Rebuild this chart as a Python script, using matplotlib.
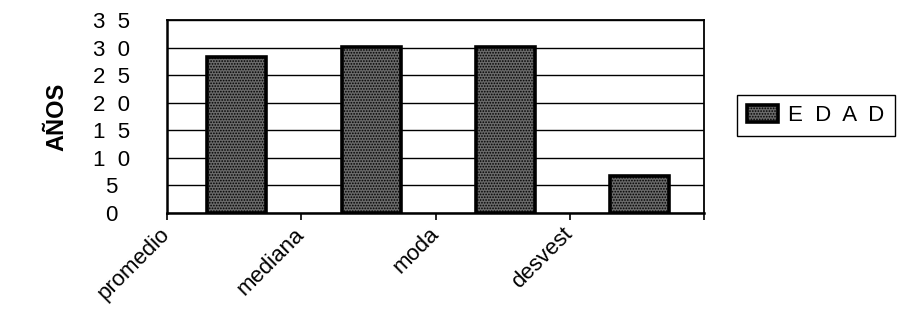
import matplotlib.pyplot as plt
from matplotlib.ticker import FuncFormatter

categories = ['promedio', 'mediana', 'moda', 'desvest']
edad = [28.3, 30.1, 30.1, 6.7]
y_ticks = [0, 5, 10, 15, 20, 25, 30, 35]

plt.rcParams['font.family'] = ['Liberation Sans', 'DejaVu Sans']
plt.rcParams['hatch.linewidth'] = 0.8

fig = plt.figure(figsize=(8.98, 3.30), dpi=100)
ax = fig.add_axes([0.186, 0.3545, 0.598, 0.5845])

# bars sit between the category ticks, as in the original sheet
pos = [i + 0.52 for i in range(len(categories))]
ax.bar(pos, edad, width=0.44, color='#6a6a6a', edgecolor='black',
       linewidth=2.6, hatch='......', label='E  D  A  D', zorder=3)

ax.set_xlim(0, len(categories))
ax.set_ylim(0, 35)
ax.set_yticks(y_ticks)
ax.yaxis.set_major_formatter(FuncFormatter(lambda v, p: '  '.join(str(int(v)))))
ax.grid(axis='y', color='black', linewidth=1.0, zorder=0)

ax.set_xticks(range(len(categories) + 1))
ax.set_xticklabels(categories + [''], rotation=45, ha='right', va='center',
                   rotation_mode='anchor', fontsize=16)
ax.tick_params(axis='x', length=5, width=1.2, direction='out', pad=8)
ax.tick_params(axis='y', length=0, labelsize=16, pad=40)
for lbl in ax.get_yticklabels():
    lbl.set_ha('center')

for s in ax.spines.values():
    s.set_linewidth(1.3)
ax.spines['left'].set_linewidth(1.8)
ax.spines['bottom'].set_linewidth(1.8)

ax.set_ylabel('AÑOS', fontsize=17, fontweight='bold')
ax.yaxis.set_label_coords(-0.183, 0.5)

fig.legend(loc='upper left', bbox_to_anchor=(0.821, 0.712),
           fontsize=16, frameon=True, fancybox=False, edgecolor='black',
           framealpha=1, handlelength=1.4, handleheight=0.8,
           handletextpad=0.45, borderpad=0.45, borderaxespad=0)

fig.savefig('out.png', dpi=100)
